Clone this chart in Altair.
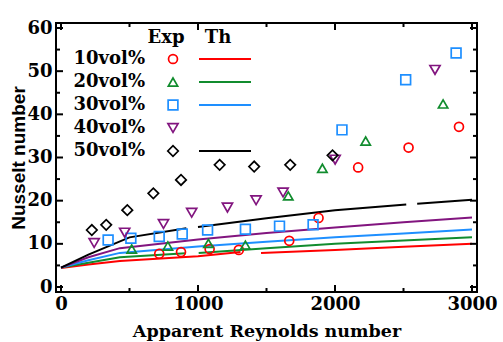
import altair as alt
import pandas as pd

# ---------------- data ----------------
SERIES = ["10vol%", "20vol%", "30vol%", "40vol%", "50vol%"]
COLORS = ["#ff0000", "#118c2e", "#1e8fff", "#82157f", "#000000"]
SHAPES = ["circle", "triangle-up", "square", "triangle-down", "diamond"]

# experimental points (Apparent Reynolds number, Nusselt number)
EXP_10_RE = [717, 876, 1085, 1298, 1666, 1880, 2169, 2537, 2905]
EXP_10_NU = [7.7, 8.1, 8.8, 8.6, 10.7, 16.0, 27.7, 32.3, 37.1]
EXP_20_RE = [516, 780, 1076, 1346, 1659, 1908, 2224, 2789]
EXP_20_NU = [8.8, 9.5, 10.1, 9.7, 21.1, 27.5, 33.8, 42.4]
EXP_30_RE = [344, 510, 717, 885, 1070, 1346, 1595, 1840, 2051, 2516, 2884]
EXP_30_NU = [10.9, 11.3, 11.7, 12.3, 13.2, 13.4, 14.1, 14.4, 36.4, 48.0, 54.2]
EXP_40_RE = [242, 465, 748, 954, 1215, 1424, 1621, 2001, 2730]
EXP_40_NU = [10.2, 12.6, 14.6, 17.2, 18.4, 20.1, 21.9, 29.5, 50.3]
EXP_50_RE = [225, 330, 484, 674, 876, 1158, 1410, 1673, 1982]
EXP_50_NU = [13.2, 14.4, 17.8, 21.7, 24.8, 28.3, 27.9, 28.3, 30.5]

# theoretical curves, None marks a break in the drawn line
TH_10_RE = [0, 200, 430, 1000, 1310, None, 1460, 2000, 2500, 3000]
TH_10_NU = [4.4, 5.2, 6.0, 7.1, 8.1, None, 7.9, 8.6, 9.3, 10.0]
TH_20_RE = [0, 200, 430, 910, None, 1005, 1500, 2000, 2500, 3000]
TH_20_NU = [4.5, 5.6, 6.9, 7.8, None, 7.9, 9.0, 10.0, 10.8, 11.5]
TH_30_RE = [0, 200, 430, 1000, 1500, 2000, 2500, 3000]
TH_30_NU = [4.5, 6.2, 7.9, 9.4, 10.5, 11.5, 12.4, 13.3]
TH_40_RE = [0, 200, 430, 1000, 1500, 2000, 2500, 3000]
TH_40_NU = [4.5, 6.9, 9.0, 11.0, 12.5, 13.8, 15.0, 16.1]
TH_50_RE = [0, 200, 500, 915, None, 1000, 1500, 2000, 2520, None, 2600, 3000]
TH_50_NU = [4.5, 7.5, 11.5, 13.6, None, 13.9, 15.9, 17.8, 19.1, None, 19.3, 20.2]

NO_TH_IN_LEGEND = "40vol%"

X_DOMAIN = [0, 3000]
Y_DOMAIN = [0, 60]
X_MAJOR = [0, 1000, 2000, 3000]
X_MINOR = [500, 1500, 2500]
Y_MAJOR = [0, 10, 20, 30, 40, 50, 60]
Y_MINOR = [5, 15, 25, 35, 45, 55]

# ---------------- tables ----------------
exp_rows = []
for s, re_, nu in zip(SERIES, [EXP_10_RE, EXP_20_RE, EXP_30_RE, EXP_40_RE, EXP_50_RE],
                      [EXP_10_NU, EXP_20_NU, EXP_30_NU, EXP_40_NU, EXP_50_NU]):
    for a, b in zip(re_, nu):
        exp_rows.append({"series": s, "Re": a, "Nu": b})
exp_df = pd.DataFrame(exp_rows)

th_rows = []
for s, re_, nu in zip(SERIES, [TH_10_RE, TH_20_RE, TH_30_RE, TH_40_RE, TH_50_RE],
                      [TH_10_NU, TH_20_NU, TH_30_NU, TH_40_NU, TH_50_NU]):
    seg = 0
    for a, b in zip(re_, nu):
        if a is None:
            seg += 1
            continue
        th_rows.append({"series": s, "seg": f"{s}-{seg}", "Re": a, "Nu": b})
th_df = pd.DataFrame(th_rows)

W, H = 421, 269
MAJ, MIN = 7, 4  # tick lengths in px
xs = alt.Scale(domain=X_DOMAIN, nice=False)
ys = alt.Scale(domain=Y_DOMAIN, nice=False)
col = alt.Scale(domain=SERIES, range=COLORS)
shp = alt.Scale(domain=SERIES, range=SHAPES)
sz = alt.Scale(domain=SERIES, range=[80, 110, 80, 110, 170])

SERIF = "DejaVu Serif"

x_axis = alt.Axis(
    values=X_MAJOR, ticks=False, domain=False, grid=False, format="d", labelFlush=False,
    labelFont=SERIF, labelFontWeight="bold", labelFontSize=18, labelPadding=3,
    labelColor="black", title="Apparent Reynolds number", titleFont=SERIF,
    titleFontWeight="bold", titleFontSize=17.5, titleColor="black", titlePadding=9)
y_axis = alt.Axis(
    values=Y_MAJOR, ticks=False, domain=False, grid=False, labelFlush=False,
    labelFont=SERIF, labelFontWeight="bold", labelFontSize=18, labelPadding=4,
    labelColor="black", title="Nusselt number", titleFont="Liberation Sans",
    titleFontWeight="bold", titleFontSize=19, titleColor="black",
    titleX=-38, titleY=H / 2, titleAlign="center", titleBaseline="middle")

lines = alt.Chart(th_df).mark_line(strokeWidth=2, clip=True).encode(
    x=alt.X("Re:Q", scale=xs, axis=x_axis),
    y=alt.Y("Nu:Q", scale=ys, axis=y_axis),
    color=alt.Color("series:N", scale=col, legend=None),
    detail="seg:N",
)

points = alt.Chart(exp_df).mark_point(filled=False, strokeWidth=1.7, opacity=1).encode(
    x=alt.X("Re:Q", scale=xs),
    y=alt.Y("Nu:Q", scale=ys),
    color=alt.Color("series:N", scale=col, legend=None),
    shape=alt.Shape("series:N", scale=shp, legend=None),
    size=alt.Size("series:N", scale=sz, legend=None),
)

# ---------- ticks as thin filled bars (inward) ----------
def xtick_bars(vals, length, top):
    y0, y1 = (0, length) if top else (H, H - length)
    return alt.Chart(pd.DataFrame({"v": vals})).mark_bar(size=2, color="#000000", opacity=1).encode(
        x=alt.X("v:Q", scale=xs), y=alt.value(y0), y2=alt.value(y1))

def ytick_bars(vals, length, right):
    x0, x1 = (W, W - length) if right else (0, length)
    return alt.Chart(pd.DataFrame({"v": vals})).mark_bar(size=2, color="#000000", opacity=1,
                                                       orient="horizontal").encode(
        y=alt.Y("v:Q", scale=ys), x=alt.value(x0), x2=alt.value(x1))

tick_layers = [
    xtick_bars(X_MAJOR, MAJ, False), xtick_bars(X_MINOR, MIN, False),
    xtick_bars(X_MAJOR, MAJ, True), xtick_bars(X_MINOR, MIN, True),
    ytick_bars(Y_MAJOR, MAJ, False), ytick_bars(Y_MINOR, MIN, False),
    ytick_bars(Y_MAJOR, MAJ, True), ytick_bars(Y_MINOR, MIN, True),
]

# ---------- frame as four thin filled rectangles ----------
def edge(x0, x1, y0, y1):
    return alt.Chart(pd.DataFrame({"f": [0]})).mark_rect(color="#000000", opacity=1).encode(
        x=alt.value(x0), x2=alt.value(x1), y=alt.value(y0), y2=alt.value(y1))

frame_layers = [
    edge(-1, W + 1, -1, 1), edge(-1, W + 1, H - 1, H + 1),
    edge(-1, 1, -1, H + 1), edge(W - 1, W + 1, -1, H + 1),
]

# ---------------- legend (pixel positions from row index) ----------------
leg_base = alt.Chart(pd.DataFrame({"series": SERIES})).transform_window(
    idx="row_number()"
).transform_calculate(py="36 + 23 * (datum.idx - 1)")
leg_y = alt.Y("py:Q", scale=None)

leg_text = leg_base.mark_text(
    align="right", baseline="middle", font=SERIF, fontWeight="bold", fontSize=18
).encode(x=alt.value(89), y=leg_y, text="series:N", color=alt.value("#000000"))

leg_pts = leg_base.mark_point(filled=False, strokeWidth=1.7, opacity=1).encode(
    x=alt.value(117), y=leg_y,
    color=alt.Color("series:N", scale=col, legend=None),
    shape=alt.Shape("series:N", scale=shp, legend=None),
    size=alt.Size("series:N", scale=sz, legend=None),
)

leg_lines = leg_base.transform_filter(
    alt.datum.series != NO_TH_IN_LEGEND
).mark_rule(strokeWidth=2).encode(
    x=alt.value(143), x2=alt.value(195), y=leg_y,
    color=alt.Color("series:N", scale=col, legend=None),
)

head_df = pd.DataFrame({"t": ["Exp", "Th"], "px": [110, 162]})
leg_head = alt.Chart(head_df).mark_text(
    align="center", baseline="middle", font=SERIF, fontWeight="bold", fontSize=18
).encode(x=alt.X("px:Q", scale=None), y=alt.value(15), text="t:N", color=alt.value("#000000"))

chart = alt.layer(
    lines, points, *tick_layers, *frame_layers, leg_text, leg_pts, leg_lines, leg_head
).properties(
    width=W, height=H,
    autosize=alt.AutoSizeParams(type="none"),
    padding={"left": 56, "top": 23, "right": 26, "bottom": 50},
).configure_view(stroke="black", strokeWidth=2)

chart.save("out.html", embed_options={"renderer": "svg", "actions": False})
